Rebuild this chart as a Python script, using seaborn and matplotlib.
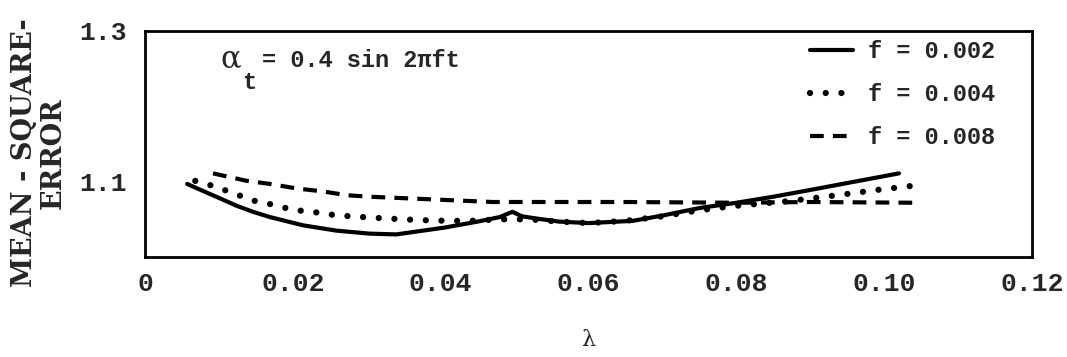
import matplotlib
matplotlib.use("Agg")
import matplotlib.pyplot as plt
import seaborn as sns
import pandas as pd

# ---- data ----
lam_f002 = [0.0057, 0.0080, 0.0101, 0.0124, 0.0146, 0.0169, 0.0214, 0.0259, 0.0304,
            0.0340, 0.0405, 0.0450, 0.0480, 0.0497, 0.0510, 0.0530, 0.0560, 0.0600,
            0.0660, 0.0700, 0.0750, 0.0800, 0.0850, 0.0900, 0.0960, 0.1020]
mse_f002 = [1.097, 1.087, 1.078, 1.068, 1.060, 1.053, 1.042, 1.035, 1.031,
            1.030, 1.039, 1.047, 1.053, 1.060, 1.054, 1.051, 1.047, 1.045,
            1.048, 1.055, 1.065, 1.072, 1.080, 1.089, 1.100, 1.111]

lam_f004 = [0.0068, 0.0083, 0.0099, 0.0124, 0.0146, 0.0166, 0.0186, 0.0205, 0.0227,
            0.0245, 0.0264, 0.0295, 0.0330, 0.0370, 0.0410, 0.0440, 0.0480, 0.0520,
            0.0560, 0.0600, 0.0650, 0.0700, 0.0750, 0.0800, 0.0870, 0.0920, 0.0960,
            0.0990, 0.1043]
mse_f004 = [1.101, 1.097, 1.092, 1.083, 1.075, 1.071, 1.066, 1.062, 1.060,
            1.057, 1.055, 1.053, 1.051, 1.049, 1.048, 1.048, 1.050, 1.050,
            1.047, 1.045, 1.048, 1.054, 1.062, 1.068, 1.074, 1.080, 1.085,
            1.089, 1.095]

lam_f008 = [0.0092, 0.0138, 0.0169, 0.0205, 0.0241, 0.0273, 0.0304, 0.0400, 0.0470,
            0.0550, 0.0650, 0.0800, 0.0900, 0.1043]
mse_f008 = [1.111, 1.101, 1.097, 1.091, 1.087, 1.082, 1.080, 1.076, 1.073,
            1.073, 1.073, 1.072, 1.073, 1.072]

series_labels = ["f = 0.002", "f = 0.004", "f = 0.008"]
x_ticks = [0.0, 0.02, 0.04, 0.06, 0.08, 0.10, 0.12]
x_ticklabels = ["0", "0.02", "0.04", "0.06", "0.08", "0.10", "0.12"]
x_minor = [0.01, 0.03, 0.05, 0.07, 0.09, 0.11]
y_ticks = [1.1, 1.2, 1.3]
y_ticklabels = ["1.1", "", "1.3"]

sns.set_style("white")
plt.rcParams["font.family"] = ["Liberation Mono", "DejaVu Sans"]

W, H = 1067, 357
fig = plt.figure(figsize=(W / 100, H / 100), dpi=100)
L, R, T, B = 145, 1032, 31, 257
ax = fig.add_axes([L / W, 1 - B / H, (R - L) / W, (B - T) / H])

df1 = pd.DataFrame({"lam": lam_f002, "mse": mse_f002})
df2 = pd.DataFrame({"lam": lam_f004, "mse": mse_f004})
df3 = pd.DataFrame({"lam": lam_f008, "mse": mse_f008})

sns.lineplot(data=df1, x="lam", y="mse", ax=ax, color="black", linewidth=3.0,
             estimator=None, sort=False, label=series_labels[0],
             solid_capstyle="round", solid_joinstyle="round")
sns.lineplot(data=df2, x="lam", y="mse", ax=ax, color="black", linewidth=4.5,
             estimator=None, sort=False, label=series_labels[1],
             linestyle=(0, (0.01, 2.5)), dash_capstyle="round")
sns.lineplot(data=df3, x="lam", y="mse", ax=ax, color="black", linewidth=3.0,
             estimator=None, sort=False, label=series_labels[2],
             linestyle=(0, (3.3, 2.2)), dash_capstyle="butt")

ax.set_xlim(0, 0.12)
ax.set_ylim(1.0, 1.3)
ax.set_xticks(x_ticks)
ax.set_xticklabels(x_ticklabels)
ax.set_xticks(x_minor, minor=True)
ax.set_yticks(y_ticks)
ax.set_yticklabels(y_ticklabels)

for s in ax.spines.values():
    s.set_visible(True)
    s.set_linewidth(2.0)
    s.set_color("black")

ax.tick_params(axis="both", which="both", direction="in", length=10, width=1.6,
               color="black")
ax.tick_params(axis="x", which="major", pad=11, labelsize=19)
ax.tick_params(axis="y", which="major", pad=13, labelsize=19)
for lab in ax.get_xticklabels() + ax.get_yticklabels():
    lab.set_fontweight("bold")

ax.set_xlabel("λ", fontsize=16, family=["DejaVu Serif"])
ax.xaxis.set_label_coords(0.5, -0.32)
ax.set_ylabel("MEAN - SQUARE-\nERROR", fontsize=19.5, fontweight="bold",
              family=["DejaVu Serif"], linespacing=1.1)
ax.yaxis.set_label_coords(-0.088, 0.46)


def axfrac(px, py):
    return (px - L) / (R - L), (B - py) / (B - T)


ax.text(*axfrac(221, 67), "α", transform=ax.transAxes, fontsize=22,
        ha="left", va="baseline", family=["DejaVu Serif"])
ax.text(*axfrac(242, 89), "t", transform=ax.transAxes, fontsize=17,
        ha="left", va="baseline", fontweight="bold")
ax.text(*axfrac(262, 67), "= 0.4 sin 2πft", transform=ax.transAxes, fontsize=17,
        ha="left", va="baseline", fontweight="bold")

leg = ax.legend(loc="upper left", bbox_to_anchor=axfrac(810, 40), frameon=False,
                fontsize=17, handlelength=1.8, handletextpad=0.65,
                labelspacing=0.85, borderpad=0, borderaxespad=0)
for t in leg.get_texts():
    t.set_fontweight("bold")

fig.savefig("out.png", dpi=100, facecolor="white")
